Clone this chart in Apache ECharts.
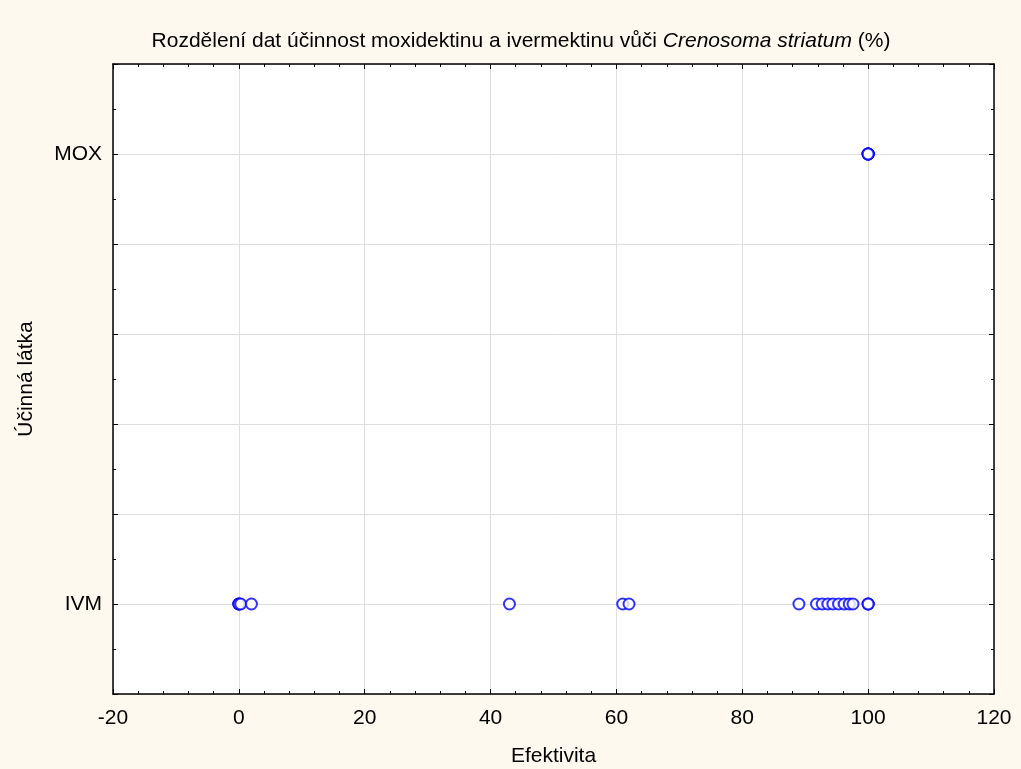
<!DOCTYPE html>
<html>
<head>
<meta charset="utf-8">
<script src="https://cdn.jsdelivr.net/npm/echarts@6/dist/echarts.min.js"></script>
<style>
  html, body { margin: 0; padding: 0; background: #fef9ee; }
  #chart { width: 1021px; height: 769px; }
</style>
</head>
<body>
<div id="chart"></div>
<script>
// Active substances shown on the vertical axis and their axis value
const substances = ['IVM', 'MOX'];
const substanceLevel = [0, 5];

// Efficacy values (%) per substance
const ivmValues = [0, 0, 0, 0.3, 2, 43, 61, 62, 89, 91.8, 92.7, 93.6, 94.4, 95.3, 96.2, 97.0, 97.6, 100, 100, 100];
const moxValues = [100, 100, 100, 100, 100, 100];

// Horizontal axis ticks
const xMin = -20, xMax = 120, xStep = 20;

const font = 'Liberation Sans, Arial, sans-serif';

function toPoints(values, level) {
  return values.map(v => [v, level]);
}

const chart = echarts.init(document.getElementById('chart'), null, { renderer: 'canvas' });

const tickStyle = { show: true, inside: true, length: 5, lineStyle: { color: '#000', width: 1 } };
const minorStyle = { show: true, length: 3, lineStyle: { color: '#000', width: 1 } };
const lineStyle = { show: true, onZero: false, lineStyle: { color: '#000', width: 1.5 } };

chart.setOption({
  backgroundColor: '#fef9ee',
  animation: false,
  title: {
    text: 'Rozdělení dat účinnost moxidektinu a ivermektinu vůči {i|Crenosoma striatum} (%)',
    left: 516,
    textAlign: 'center',
    top: 26,
    textStyle: {
      fontFamily: font, fontSize: 21, fontWeight: 'normal', color: '#000',
      rich: { i: { fontFamily: font, fontSize: 21, fontStyle: 'italic', color: '#000' } }
    }
  },
  grid: {
    left: 113, right: 27, top: 64, bottom: 75,
    outerBoundsMode: 'none',
    show: true, backgroundColor: '#ffffff', borderWidth: 0
  },
  xAxis: [{
    type: 'value', min: xMin, max: xMax, interval: xStep,
    name: 'Efektivita', nameLocation: 'middle', nameGap: 52,
    nameTextStyle: { fontFamily: font, fontSize: 21, color: '#000' },
    axisLine: lineStyle,
    axisTick: tickStyle,
    minorTick: Object.assign({ splitNumber: 5 }, minorStyle),
    axisLabel: { fontFamily: font, fontSize: 21, color: '#000', margin: 14 },
    splitLine: { show: true, lineStyle: { color: '#dedede', width: 1 } }
  }, {
    type: 'value', position: 'top', min: xMin, max: xMax, interval: xStep,
    axisLine: lineStyle,
    axisTick: tickStyle,
    minorTick: Object.assign({ splitNumber: 5 }, minorStyle),
    axisLabel: { show: false },
    splitLine: { show: false }
  }],
  yAxis: [{
    type: 'value', min: -1, max: 6, interval: 1,
    name: 'Účinná látka', nameLocation: 'middle', nameGap: 76, nameRotate: 90,
    nameTextStyle: { fontFamily: font, fontSize: 21, color: '#000' },
    axisLine: lineStyle,
    axisTick: tickStyle,
    minorTick: Object.assign({ splitNumber: 2 }, minorStyle),
    axisLabel: {
      fontFamily: font, fontSize: 21, color: '#000', margin: 11,
      formatter: v => {
        const i = substanceLevel.indexOf(v);
        return i >= 0 ? substances[i] : '';
      }
    },
    splitLine: { show: true, lineStyle: { color: '#dedede', width: 1 } }
  }, {
    type: 'value', position: 'right', min: -1, max: 6, interval: 1,
    axisLine: lineStyle,
    axisTick: tickStyle,
    minorTick: Object.assign({ splitNumber: 2 }, minorStyle),
    axisLabel: { show: false },
    splitLine: { show: false }
  }],
  series: [{
    name: substances[0],
    type: 'scatter',
    symbol: 'emptyCircle',
    symbolSize: 11,
    itemStyle: { color: '#0000ff', borderColor: '#0000ff', borderWidth: 2.2 },
    data: toPoints(ivmValues, substanceLevel[0])
  }, {
    name: substances[1],
    type: 'scatter',
    symbol: 'emptyCircle',
    symbolSize: 11,
    itemStyle: { color: '#0000ff', borderColor: '#0000ff', borderWidth: 2.2 },
    data: toPoints(moxValues, substanceLevel[1])
  }]
});
</script>
</body>
</html>
